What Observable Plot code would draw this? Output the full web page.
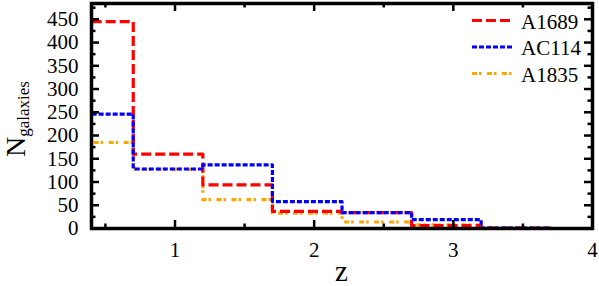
<!DOCTYPE html>
<html>
<head>
<meta charset="utf-8">
<script src="https://cdn.jsdelivr.net/npm/d3@7"></script>
<script src="https://cdn.jsdelivr.net/npm/@observablehq/plot@0.6"></script>
<style>
  html, body { margin: 0; padding: 0; background: #fff; }
  #chart svg { display: block; overflow: visible; }
  #chart svg text, #chart svg tspan { font-family: 'Liberation Serif', 'Times New Roman', serif !important; }
</style>
</head>
<body>
<div id="chart"></div>
<script>
// ---- data ----
const binEdges = [0.2, 0.7, 1.2, 1.7, 2.2, 2.7, 3.2, 3.7];
const seriesNames = ["A1689", "AC114", "A1835"];
const a1689 = [445, 160, 94, 37, 34, 6, 1];
const ac114 = [246, 128, 137, 58, 34, 19, 1];
const a1835 = [185, 127, 62, 33, 14, 8, 1];
const xMajorTicks = [1, 2, 3, 4];
const xMinorTicks = [0.5, 1.5, 2.5, 3.5];
const yMajorTicks = [0, 50, 100, 150, 200, 250, 300, 350, 400, 450];
const yMinorTicks = [25, 75, 125, 175, 225, 275, 325, 375, 425, 475];

// ---- layout / style ----
const W = 599, H = 286;
const mL = 91, mR = 7, mT = 3, mB = 58;
const fw = W - mL - mR, fh = H - mT - mB;
const font = "'Liberation Serif', 'Times New Roman', serif";
const styles = {
  A1689: {color: "#ff0000", dash: "10,4"},
  AC114: {color: "#0000ff", dash: "5,2"},
  A1835: {color: "#ffa500", dash: "5,2,2.5,5.5"}
};
const valuesByName = {A1689: a1689, AC114: ac114, A1835: a1835};

function steps(name) {
  const v = valuesByName[name];
  const rows = v.map((n, i) => ({series: name, z: binEdges[i], n}));
  rows.push({series: name, z: binEdges[binEdges.length - 1], n: v[v.length - 1]});
  return rows;
}

const drawOrder = ["A1835", "A1689", "AC114"];
const lineMarks = drawOrder.map(name => Plot.line(steps(name), {
  x: "z", y: "n", curve: "step-after", clip: true,
  stroke: styles[name].color, strokeWidth: 3.2, strokeDasharray: styles[name].dash,
  strokeLinecap: "butt"
}));

const majLen = 8, minLen = 4.5, tickW = 2.5;
const tickMarks = [
  Plot.ruleY(yMajorTicks, {insetRight: fw - majLen, strokeWidth: tickW}),
  Plot.ruleY(yMinorTicks, {insetRight: fw - minLen, strokeWidth: tickW}),
  Plot.ruleY(yMajorTicks, {insetLeft: fw - majLen, strokeWidth: tickW}),
  Plot.ruleY(yMinorTicks, {insetLeft: fw - minLen, strokeWidth: tickW}),
  Plot.ruleX(xMajorTicks, {insetTop: fh - majLen, strokeWidth: tickW}),
  Plot.ruleX(xMinorTicks, {insetTop: fh - minLen, strokeWidth: tickW}),
  Plot.ruleX(xMajorTicks, {insetBottom: fh - majLen, strokeWidth: tickW}),
  Plot.ruleX(xMinorTicks, {insetBottom: fh - minLen, strokeWidth: tickW})
];

function legendMark() {
  const g = d3.create("svg:g");
  seriesNames.forEach((name, i) => {
    const y = 20.5 + 26.5 * i;
    g.append("line")
      .attr("x1", 472).attr("x2", 512).attr("y1", y).attr("y2", y)
      .attr("stroke", styles[name].color).attr("stroke-width", 3.2)
      .attr("stroke-dasharray", styles[name].dash);
    g.append("text")
      .attr("x", 521).attr("y", y + 8)
      .attr("text-anchor", "start")
      .attr("font-family", font).attr("font-size", 21).attr("fill", "black")
      .text(name);
  });
  return g.node();
}

function axisLabelsMark() {
  const g = d3.create("svg:g").attr("font-family", font).attr("fill", "black");
  const t = g.append("text").attr("text-anchor", "start")
    .attr("transform", "translate(25,157) rotate(-90)");
  t.append("tspan").attr("font-size", 28).text("N");
  t.append("tspan").attr("font-size", 17).attr("dy", 3.5).text("galaxies");
  g.append("text").attr("x", mL + fw / 2).attr("y", 281)
    .attr("text-anchor", "middle").attr("font-size", 29).text("z");
  return g.node();
}

const chart = Plot.plot({
  width: W, height: H,
  marginLeft: mL, marginRight: mR, marginTop: mT, marginBottom: mB,
  style: {background: "white", fontFamily: font},
  x: {domain: [0.4, 4]},
  y: {domain: [0, 484]},
  marks: [
    ...lineMarks,
    ...tickMarks,
    Plot.axisX({ticks: xMajorTicks, tickSize: 0, tickPadding: 14, fontSize: 21, fontFamily: font, label: null, tickFormat: d3.format("d")}),
    Plot.axisY({ticks: yMajorTicks, tickSize: 0, tickPadding: 13, fontSize: 21, fontFamily: font, label: null}),
    Plot.frame({stroke: "black", strokeWidth: 3.5}),
    legendMark,
    axisLabelsMark
  ]
});
document.getElementById("chart").appendChild(chart);
</script>
</body>
</html>
